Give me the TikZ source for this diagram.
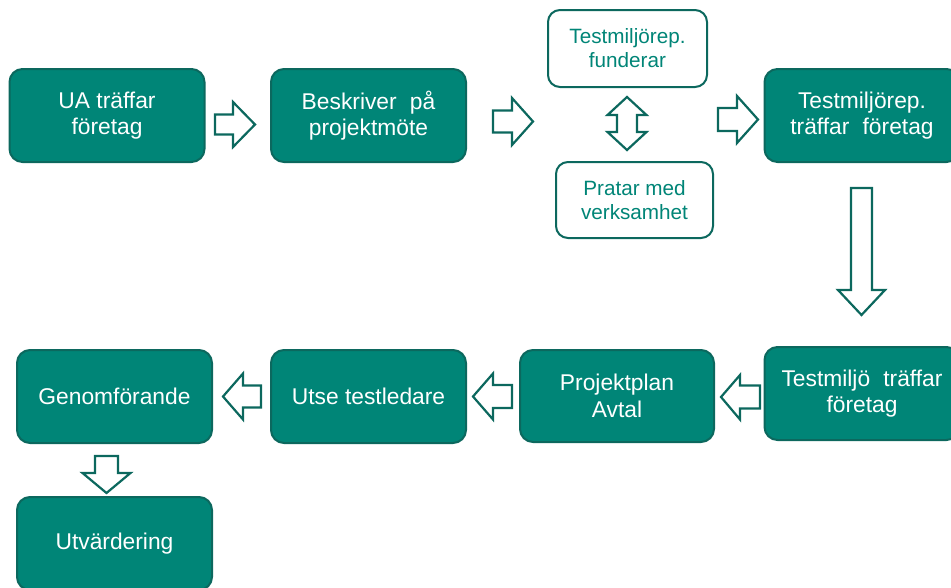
\documentclass[tikz,border=0pt]{standalone}
\usepackage{fontspec}
\setmainfont{Liberation Sans}
\definecolor{tealfill}{RGB}{0,133,119}
\definecolor{tealline}{RGB}{12,104,94}
\definecolor{tealtext}{RGB}{0,133,119}
\tikzset{
  solidbox/.style={draw=tealline, line width=2pt, fill=tealfill, rounded corners=13pt,
    text=white, align=center, minimum width=195pt, minimum height=93pt, inner sep=2pt,
    font=\fontsize{22.8}{26.5}\selectfont},
  openbox/.style={draw=tealline, line width=2pt, fill=white, rounded corners=12pt,
    text=tealtext, align=center, inner sep=2pt,
    font=\fontsize{20.7}{24}\selectfont},
  blockarrow/.style={draw=tealline, line width=2.2pt, fill=white, line join=miter}
}
\begin{document}
\begin{tikzpicture}[x=1pt,y=-1pt]
\useasboundingbox (0,0) rectangle (951,587);
% solid boxes
\node[solidbox] (b1) at (107,115.5) {UA träffar\\företag};
\node[solidbox] (b2) at (368.5,115.5) {Beskriver\hspace{0.3em} på\\projektmöte};
\node[solidbox] (b3) at (862,115.5) {Testmiljörep.\\träffar\hspace{0.3em} företag};
\node[solidbox] (b4) at (862,393.5) {Testmiljö\hspace{0.3em} träffar\\företag};
\node[solidbox, minimum width=194pt, minimum height=92pt] (b5) at (617,396) {Projektplan\\Avtal};
\node[solidbox] (b6) at (368.5,396.5) {Utse testledare};
\node[solidbox] (b7) at (114.5,396.5) {Genomförande};
\node[solidbox] (b8) at (114.5,543.5) {Utvärdering};
% open boxes
\node[openbox, minimum width=159pt, minimum height=77pt] (w1) at (627.5,48.5) {Testmiljörep.\\funderar};
\node[openbox, minimum width=157pt, minimum height=76pt] (w2) at (634.5,200) {Pratar med\\verksamhet};
% right arrows
\draw[blockarrow] (215,114.5) -- (233,114.5) -- (233,102) -- (255,124.5) -- (233,147) -- (233,134.5) -- (215,134.5) -- cycle;
\draw[blockarrow] (493,110.5) -- (512,110.5) -- (512,98) -- (533,121.5) -- (512,145) -- (512,132.5) -- (493,132.5) -- cycle;
\draw[blockarrow] (718,108) -- (737,108) -- (737,96) -- (758,119.5) -- (737,143) -- (737,131) -- (718,131) -- cycle;
% double vertical arrow
\draw[blockarrow] (627,97) -- (646.5,115) -- (637,115) -- (637,132) -- (646.5,132) -- (627,150) -- (607.5,132) -- (617,132) -- (617,115) -- (607.5,115) -- cycle;
% big down arrow
\draw[blockarrow] (851,188) -- (872,188) -- (872,290) -- (885,290) -- (861.5,315) -- (838,290) -- (851,290) -- cycle;
% left arrows
\draw[blockarrow] (760,385.5) -- (740,385.5) -- (740,375) -- (721,397) -- (740,419.5) -- (740,408.5) -- (760,408.5) -- cycle;
\draw[blockarrow] (512,385) -- (493,385) -- (493,373.5) -- (473,396.5) -- (493,419.5) -- (493,408) -- (512,408) -- cycle;
\draw[blockarrow] (261,385.5) -- (243,385.5) -- (243,373.5) -- (223,396.5) -- (243,419.5) -- (243,407.5) -- (261,407.5) -- cycle;
% small down arrow
\draw[blockarrow] (95,456) -- (118,456) -- (118,473) -- (130.5,473) -- (106.5,493) -- (82.5,473) -- (95,473) -- cycle;
\end{tikzpicture}
\end{document}
